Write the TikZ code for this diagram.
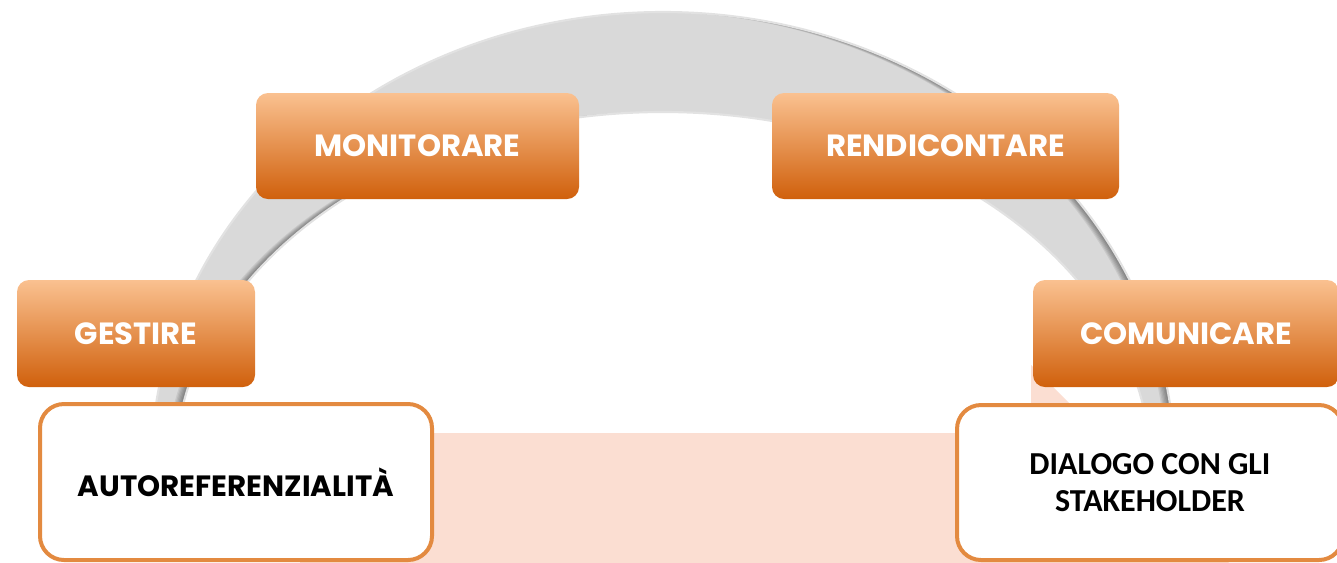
\documentclass[tikz,border=0pt]{standalone}
\usepackage{fontspec}
\newfontfamily\gothicfont{Poppins}
\newfontfamily\calibfont{Carlito}
\definecolor{peachtop}{HTML}{FAC190}
\definecolor{orangemid}{HTML}{F69A4E}
\definecolor{orangebot}{HTML}{D0600C}
\definecolor{ringgray}{HTML}{D9D9D9}
\definecolor{ringrim}{HTML}{E2E2E2}
\definecolor{pinkback}{HTML}{FBDED2}
\definecolor{boxedge}{HTML}{E38A40}
\newcommand\ringoutline{(151,468) arc[start angle=180, end angle=360, x radius=512, y radius=456] -- (1151,470) arc[start angle=0, end angle=-180, x radius=488, y radius=358] -- cycle}
\tikzset{
  stagebox/.style={rounded corners=9pt, top color=peachtop, middle color=orangemid, bottom color=orangebot,
    text=white, inner sep=0pt, font=\gothicfont\bfseries\fontsize{23}{27}\selectfont},
  outcomebox/.style={draw=boxedge, line width=3pt, fill=white, rounded corners=18pt, inner sep=0pt,
    text=black, align=center}
}
\begin{document}
\begin{tikzpicture}[x=0.75pt,y=0.75pt,yscale=-1,xscale=1]
\useasboundingbox (0,0) rectangle (1337,562);
\clip (0,0) rectangle (1337,562);
%Shape: pink arrow behind
\fill[pinkback] (300,433) -- (1031,433) -- (1031,365) -- (1266,600) -- (300,600) -- cycle;
%Shape: grey ring
\fill[ringgray] \ringoutline;
\begin{scope}
\clip \ringoutline;
\foreach \d in {1,...,7}
  \fill[black, opacity=0.07, even odd rule, shift={(-1.3*\d,0)}] (-100,-100) rectangle (1500,700) \ringoutline;
\end{scope}
\draw[ringrim, line width=1.6pt] \ringoutline;
%Stage boxes
\node[stagebox, minimum width={323*0.75pt}, minimum height={106*0.75pt}] (monitorare) at (417.5,146) {MONITORARE};
\node[stagebox, minimum width={347*0.75pt}, minimum height={106*0.75pt}] (rendicontare) at (945.5,146) {RENDICONTARE};
\node[stagebox, minimum width={238*0.75pt}, minimum height={107*0.75pt}] (gestire) at (136,333.5) {GESTIRE};
\node[stagebox, minimum width={306*0.75pt}, minimum height={107*0.75pt}] (comunicare) at (1186,333.5) {COMUNICARE};
%Outcome boxes
\node[outcomebox, minimum width={392*0.75pt}, minimum height={156*0.75pt},
  font=\gothicfont\bfseries\fontsize{22}{26}\selectfont] (autoref) at (236,482) {AUTOREFERENZIALITÀ};
\node[outcomebox, minimum width={386*0.75pt}, minimum height={155*0.75pt},
  font=\calibfont\bfseries\fontsize{24}{27.5}\selectfont] (dialogo) at (1150,482.5) {DIALOGO CON GLI\\STAKEHOLDER};
\end{tikzpicture}
\end{document}
